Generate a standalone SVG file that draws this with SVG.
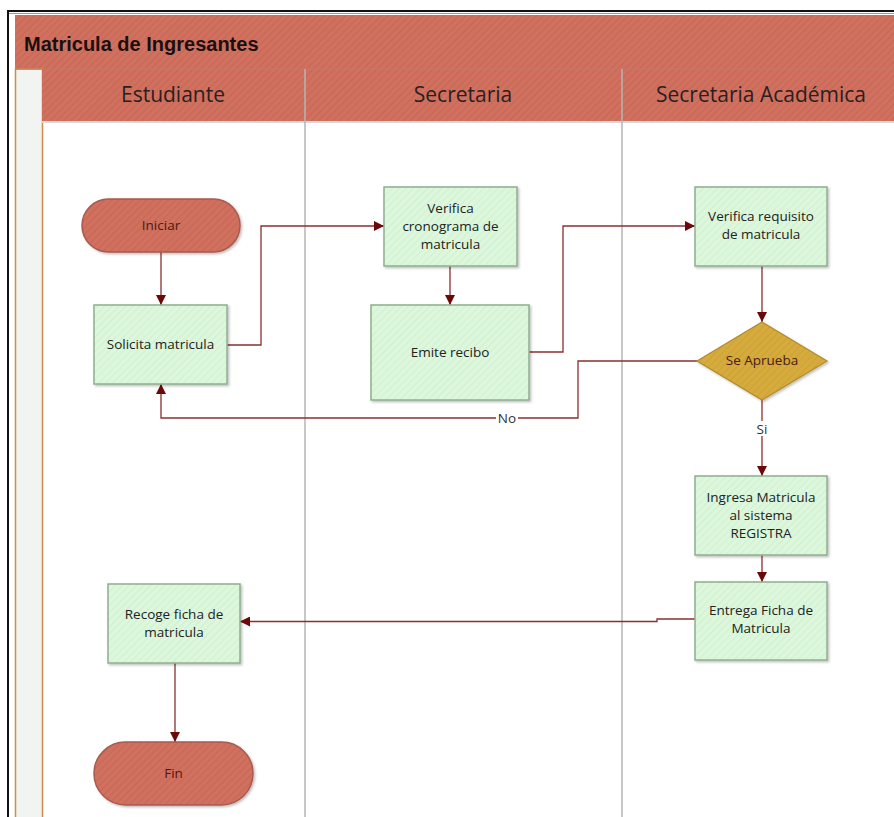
<svg xmlns="http://www.w3.org/2000/svg" width="894" height="817" viewBox="0 0 894 817">
<defs>
<pattern id="hatchRed" width="5" height="5" patternUnits="userSpaceOnUse" patternTransform="rotate(45)">
<rect width="5" height="5" fill="#d0705f"/>
<line x1="0" y1="0" x2="0" y2="5" stroke="#c66352" stroke-width="1.5"/>
</pattern>
<pattern id="hatchGreen" width="5" height="5" patternUnits="userSpaceOnUse" patternTransform="rotate(45)">
<rect width="5" height="5" fill="#dcf7dc"/>
<line x1="0" y1="0" x2="0" y2="5" stroke="#cdeecd" stroke-width="1.5"/>
</pattern>
<pattern id="hatchGold" width="5" height="5" patternUnits="userSpaceOnUse" patternTransform="rotate(45)">
<rect width="5" height="5" fill="#d6ab3c"/>
<line x1="0" y1="0" x2="0" y2="5" stroke="#c99e32" stroke-width="1.5"/>
</pattern>
<marker id="arr" viewBox="0 0 10 10" refX="10" refY="5" markerWidth="10" markerHeight="10" markerUnits="userSpaceOnUse" orient="auto">
<path d="M0,0 L10,5 L0,10 z" fill="#6e0808"/>
</marker>
<filter id="sh" x="-10%" y="-10%" width="130%" height="130%">
<feDropShadow dx="1.5" dy="1.5" stdDeviation="1.2" flood-color="#000" flood-opacity="0.25"/>
</filter>
</defs>
<style>
.hdr{font-family:"Open Sans","Noto Sans",sans-serif;font-size:21px;fill:#2a2020;text-anchor:middle}
.title{font-family:"Liberation Sans",Arial,sans-serif;font-size:20px;font-weight:bold;fill:#1a1010}
.box{fill:url(#hatchGreen);stroke:#8fae8f;stroke-width:1.5;filter:url(#sh)}
.term{fill:url(#hatchRed);stroke:#a85a4e;stroke-width:1.5;filter:url(#sh)}
.dec{fill:url(#hatchGold);stroke:#b38a2c;stroke-width:1.2;filter:url(#sh)}
.t{font-family:"Open Sans","Noto Sans",sans-serif;font-size:13.5px;fill:#222;text-anchor:middle}
.tt{font-family:"Open Sans","Noto Sans",sans-serif;font-size:13.5px;fill:#4a1a14;text-anchor:middle}
.c{fill:none;stroke:#8a2f2f;stroke-width:1.3}
.lbl{font-family:"Open Sans","Noto Sans",sans-serif;font-size:13.5px;fill:#333;text-anchor:middle}
.lane{stroke:#b4b4b4;stroke-width:1.5}
</style>
<rect x="0" y="0" width="894" height="817" fill="#ffffff"/>
<g id="frame">
<line x1="8" y1="11" x2="894" y2="11" stroke="#111" stroke-width="2"/>
<line x1="8" y1="13.5" x2="894" y2="13.5" stroke="#999" stroke-width="1"/>
<line x1="8" y1="10" x2="8" y2="817" stroke="#111" stroke-width="2"/>
</g>
<g id="pool">
<rect x="15" y="15" width="879" height="54" fill="url(#hatchRed)"/>
<text class="title" x="24" y="51">Matricula de Ingresantes</text>
<rect x="15.5" y="69" width="27" height="760" fill="#f1f4f1" stroke="#d38c48" stroke-width="1.5"/>
<rect x="42" y="69" width="852" height="52" fill="url(#hatchRed)"/>
<line x1="42" y1="122" x2="894" y2="122" stroke="#d8d8d8" stroke-width="2"/>
<line x1="15" y1="69" x2="894" y2="69" stroke="#c07a6c" stroke-width="1"/>
<line class="lane" x1="305" y1="69" x2="305" y2="817"/>
<line class="lane" x1="622" y1="69" x2="622" y2="817"/>
</g>
<g id="lane-estudiante"><text class="hdr" x="173" y="102">Estudiante</text></g>
<g id="lane-secretaria"><text class="hdr" x="463" y="102">Secretaria</text></g>
<g id="lane-academica"><text class="hdr" x="761" y="102">Secretaria Académica</text></g>
<g id="connectors">
<path class="c" d="M161,252 V305" marker-end="url(#arr)"/>
<path class="c" d="M227,345 H261 V226 H384" marker-end="url(#arr)"/>
<path class="c" d="M450,266 V305" marker-end="url(#arr)"/>
<path class="c" d="M529,352 H563 V226 H695" marker-end="url(#arr)"/>
<path class="c" d="M762,266 V322" marker-end="url(#arr)"/>
<path class="c" d="M697,361 H578 V418 H161 V384" marker-end="url(#arr)"/>
<path class="c" d="M762,400 V476" marker-end="url(#arr)"/>
<path class="c" d="M762,555 V582" marker-end="url(#arr)"/>
<path class="c" d="M695,619 H657 V621.5 H240" marker-end="url(#arr)"/>
<path class="c" d="M175,663 V742" marker-end="url(#arr)"/>
<rect x="496" y="411" width="22" height="14" fill="#ffffff"/>
<text class="lbl" x="507" y="423">No</text>
<rect x="754" y="421" width="16" height="15" fill="#ffffff"/>
<text class="lbl" x="762" y="434">Si</text>
</g>
<g id="iniciar">
<rect class="term" x="82" y="199" width="158" height="53" rx="26.5"/>
<text class="tt" x="161" y="230">Iniciar</text>
</g>
<g id="solicita">
<rect class="box" x="94" y="305" width="133" height="79"/>
<text class="t" x="160.5" y="349">Solicita matricula</text>
</g>
<g id="verifica-cronograma">
<rect class="box" x="384" y="187" width="133" height="79"/>
<text class="t" x="450.5" y="213">Verifica</text>
<text class="t" x="450.5" y="231">cronograma de</text>
<text class="t" x="450.5" y="249">matricula</text>
</g>
<g id="emite">
<rect class="box" x="371" y="305" width="158" height="95"/>
<text class="t" x="450" y="357">Emite recibo</text>
</g>
<g id="verifica-requisito">
<rect class="box" x="695" y="187" width="132" height="79"/>
<text class="t" x="761" y="221">Verifica requisito</text>
<text class="t" x="761" y="239">de matricula</text>
</g>
<g id="se-aprueba">
<polygon class="dec" points="762,322 827,361 762,400 697,361"/>
<text class="tt" x="762" y="365">Se Aprueba</text>
</g>
<g id="ingresa">
<rect class="box" x="695" y="476" width="132" height="79"/>
<text class="t" x="761" y="502">Ingresa Matricula</text>
<text class="t" x="761" y="520">al sistema</text>
<text class="t" x="761" y="538">REGISTRA</text>
</g>
<g id="entrega">
<rect class="box" x="695" y="582" width="132" height="78"/>
<text class="t" x="761" y="615">Entrega Ficha de</text>
<text class="t" x="761" y="633">Matricula</text>
</g>
<g id="recoge">
<rect class="box" x="108" y="584" width="132" height="79"/>
<text class="t" x="174" y="619">Recoge ficha de</text>
<text class="t" x="174" y="637">matricula</text>
</g>
<g id="fin">
<rect class="term" x="94" y="742" width="159" height="63" rx="31.5"/>
<text class="tt" x="173.5" y="778">Fin</text>
</g>
</svg>
